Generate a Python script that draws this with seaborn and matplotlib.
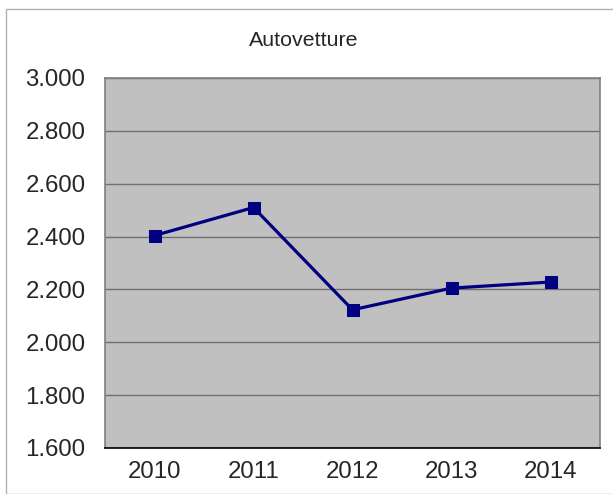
import matplotlib
matplotlib.use("Agg")
import matplotlib.pyplot as plt
import seaborn as sns
import pandas as pd
from matplotlib.patches import Rectangle
from matplotlib.ticker import FuncFormatter

years = ["2010", "2011", "2012", "2013", "2014"]
values = [2404, 2510, 2123, 2205, 2228]
title = "Autovetture"

sns.set_style("white")
plt.rcParams['font.family'] = ['Liberation Sans', 'DejaVu Sans']

df = pd.DataFrame({"year": years, "value": values})

fig = plt.figure(figsize=(6.13, 4.94), dpi=100)
ax = fig.add_axes([105/613, 1-448/494, (600-105)/613, (448-78)/494])
ax.set_facecolor("#C0C0C0")

sns.lineplot(data=df, x="year", y="value", ax=ax, color="#000080", linewidth=2.3,
             marker="s", markersize=9, markeredgecolor="#000080", sort=False)

ax.set_xlim(-0.5, 4.5)
ax.set_ylim(1600, 3000)
ax.set_yticks(range(1600, 3001, 200))
ax.yaxis.set_major_formatter(FuncFormatter(lambda v, p: f"{int(v):,}".replace(",", ".")))
ax.grid(axis="y", color="#707070", linewidth=1)
ax.grid(axis="x", visible=False)
ax.set_axisbelow(True)
ax.set_xlabel("")
ax.set_ylabel("")
for s in ["top", "right", "left"]:
    ax.spines[s].set_color("#808080")
    ax.spines[s].set_linewidth(1.2)
ax.spines["bottom"].set_color("#000000")
ax.spines["bottom"].set_linewidth(1.2)
ax.tick_params(axis="y", length=0, pad=14, labelsize=17.3)
ax.tick_params(axis="x", length=0, pad=9, labelsize=17.3)

fig.text(0.495, 1-41/494, title, ha="center", va="center", fontsize=15.4)
fig.patches.append(Rectangle((6/613, 0), 1, 1-9/494, transform=fig.transFigure,
                             fill=False, edgecolor="#B0B0B0", linewidth=1))

fig.savefig("out.png", dpi=100)
